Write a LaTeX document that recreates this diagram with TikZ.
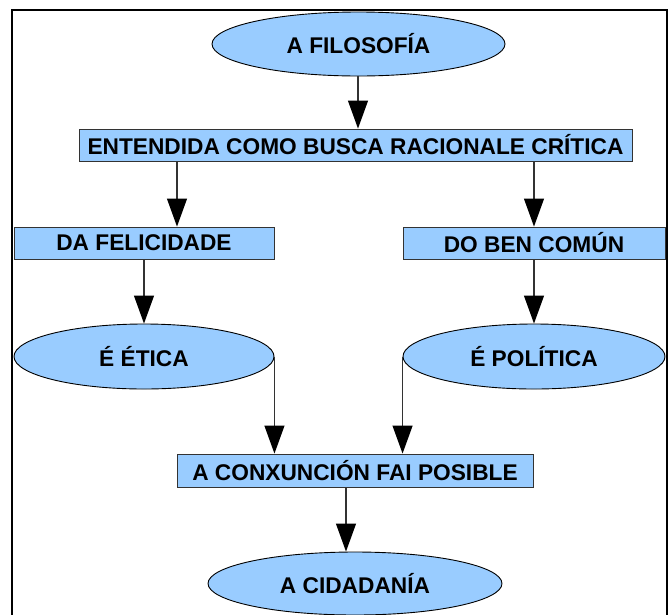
\documentclass[tikz,border=0pt]{standalone}
\usepackage{fontspec}
\setmainfont{Liberation Sans}
\usetikzlibrary{shapes.geometric,arrows.meta}
\definecolor{nodeblue}{HTML}{99CCFF}
\definecolor{edgegray}{HTML}{333333}
\begin{document}
\begin{tikzpicture}[x=1pt,y=-1pt,
  txt/.style={font=\bfseries\fontsize{22.7}{24}\selectfont, text=black},
  boxnode/.style={txt, rectangle, draw=edgegray, line width=0.9pt, fill=nodeblue, minimum height=32pt, inner sep=0pt},
  ellnode/.style={txt, ellipse, draw=black, line width=0.9pt, fill=nodeblue, minimum height=64pt, inner sep=0pt},
  conn/.style={draw=edgegray, line width=1.1pt, -{Triangle[length=28pt,width=20pt,black]}}
]
\useasboundingbox (0,0) rectangle (672,614);
\begin{scope}
\clip (0,0) rectangle (672,614);
\draw[line width=2pt, black] (12,10) rectangle (667,640);

\node[ellnode, minimum width=293pt] (fil) at (358.5,44) {A FILOSOFÍA};
\node[boxnode, minimum width=553pt] (ent) at (355.5,145) {ENTENDIDA COMO BUSCA RACIONALE CRÍTICA};
\node[boxnode, minimum width=260pt] (fel) at (144,243) {DA FELICIDADE};
\node[boxnode, minimum width=262pt] (ben) at (534,243) {DO BEN COMÚN};
\node[ellnode, minimum width=260pt, minimum height=65pt] (eti) at (144,356.5) {É ÉTICA};
\node[ellnode, minimum width=262pt, minimum height=65pt] (pol) at (534,356.5) {É POLÍTICA};
\node[boxnode, minimum width=356pt, minimum height=33pt] (con) at (355,470.5) {A CONXUNCIÓN FAI POSIBLE};
\node[ellnode, minimum width=294pt, minimum height=63pt] (cid) at (355,583.5) {A CIDADANÍA};

\coordinate (c1) at (177,0);
\coordinate (c2) at (358,0);
\coordinate (c3) at (346,0);

\draw[conn] (fil.south -| c2) -- (ent.north -| c2);
\draw[conn] (ent.south -| c1) -- (fel.north -| c1);
\draw[conn] (ent.south -| ben.north) -- (ben.north);
\draw[conn] (fel.south) -- (eti.north);
\draw[conn] (ben.south) -- (pol.north);
\draw[conn] (eti.east) -- (eti.east |- con.north);
\draw[conn] (pol.west) -- (pol.west |- con.north);
\draw[conn] (con.south -| c3) -- (cid.north -| c3);
\end{scope}
\end{tikzpicture}
\end{document}
